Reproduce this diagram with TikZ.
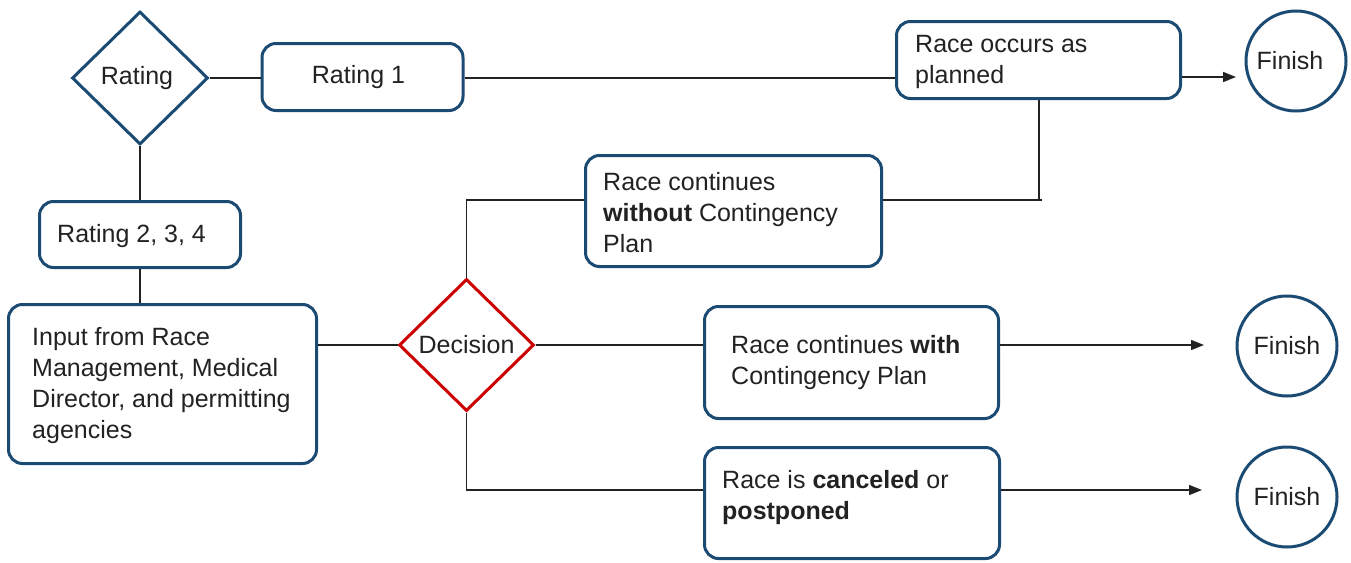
\documentclass[tikz,border=0pt]{standalone}
\usepackage{fontspec}
\setmainfont{Liberation Sans}
\usetikzlibrary{shapes.geometric,arrows.meta}
\definecolor{navy}{HTML}{1B4A73}
\definecolor{dred}{HTML}{CC0000}
\definecolor{ink}{HTML}{222222}
\begin{document}
\begin{tikzpicture}[x=1pt,y=-1pt,
 box/.style={draw=navy, line width=3pt, rounded corners=14pt, fill=white, inner sep=0pt, font=\fontsize{25}{31}\selectfont},
 dia/.style={draw=navy, line width=3pt, shape=diamond, aspect=1, inner sep=0pt, fill=white, font=\fontsize{25}{31}\selectfont},
 fin/.style={draw=navy, line width=3pt, circle, inner sep=0pt, minimum size=100pt, fill=white, font=\fontsize{25}{31}\selectfont},
 txt/.style={font=\fontsize{25}{31}\selectfont, align=left, inner sep=0pt, anchor=west, text=ink},
 conn/.style={draw=ink, line width=1.5pt},
 arr/.style={conn, -{Triangle[length=13pt,width=10pt]}},
]
\useasboundingbox (0,0) rectangle (1351,562);

% shapes
\node[dia, minimum width=136pt, minimum height=133pt, text=ink] (rat) at (140,78) {\kern-6pt Rating};
\node[box, minimum width=201pt, minimum height=67pt, text=ink] (r1) at (362.5,77) {\kern-8pt Rating 1};
\node[box, minimum width=284pt, minimum height=77pt] (occ) at (1038.5,60) {};
\node[txt] (occT) at (915,62) {Race occurs as\\planned};
\node[fin, text=ink] (fin1) at (1296,61) {Finish\kern12pt};

\node[box, minimum width=201pt, minimum height=66pt] (r234) at (140,234.5) {};
\node[txt] (r234T) at (57,236) {Rating 2, 3, 4};

\node[box, minimum width=308pt, minimum height=159pt] (inp) at (162.5,384) {};
\node[txt] (inpT) at (32,386) {Input from Race\\Management, Medical\\Director, and permitting\\agencies};

\node[dia, draw=dred, minimum width=135pt, minimum height=132pt, text=ink] (dec) at (466.5,345) {Decision};

\node[box, minimum width=296pt, minimum height=111pt] (wo) at (733.5,211) {};
\node[txt] (woT) at (603,213) {Race continues\\\textbf{without} Contingency\\Plan};

\node[box, minimum width=294pt, minimum height=112pt] (wi) at (851.5,362.5) {};
\node[txt] (wiT) at (731,363) {Race continues \textbf{with}\\Contingency Plan};
\node[fin, text=ink] (fin2) at (1287,346) {Finish};

\node[box, minimum width=295pt, minimum height=111pt] (ca) at (852,503) {};
\node[txt] (caT) at (722,498) {Race is \textbf{canceled} or\\\textbf{postponed}};
\node[fin, text=ink] (fin3) at (1287,497) {Finish};

% connectors
\coordinate (a1) at (1236,77);
\coordinate (j1) at (466.5,200);
\coordinate (j2) at (1039,200);
\coordinate (a2) at (1204,345);
\coordinate (j3) at (466.5,490);
\coordinate (a3) at (1202,490);

\draw[conn] (rat.east) -- (rat.east -| r1.west);
\draw[conn] (r1.east |- rat.east) -- (r1.east |- rat.east -| occ.west);
\draw[arr] (occ.east |- a1) -- (a1);
\draw[conn] (rat.south) -- (r234.north);
\draw[conn] (r234.south) -- (r234.south |- inp.north);
\draw[conn] (inp.east |- dec.west) -- (dec.west);
\draw[conn] (dec.north) -- (j1) -- (j1 -| wo.west);
\draw[conn] (j2 -| wo.east) -- ([xshift=3pt]j2);
\draw[conn] (j2) -- (j2 |- occ.south);
\draw[conn] (dec.east) -- (dec.east -| wi.west);
\draw[arr] (wi.east |- a2) -- (a2);
\draw[conn] (dec.south) -- (j3) -- (j3 -| ca.west);
\draw[arr] (ca.east |- a3) -- (a3);
\end{tikzpicture}
\end{document}
